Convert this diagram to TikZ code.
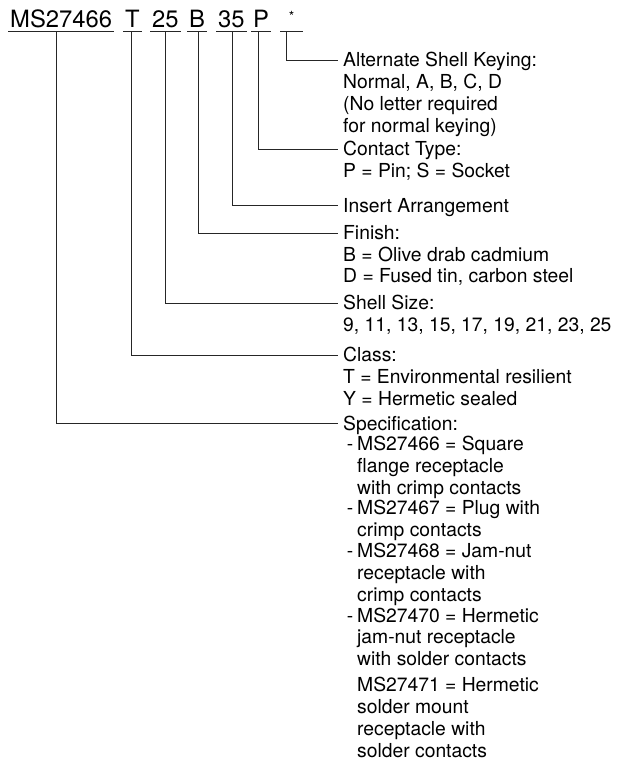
\documentclass[tikz,border=0pt]{standalone}
\usepackage{fontspec}
\setmainfont{TeX Gyre Heros}
\usetikzlibrary{positioning,calc}
\tikzset{
  code/.style={font=\fontsize{23.8}{26}\selectfont, inner xsep=2pt, inner ysep=0pt, text depth=0pt, anchor=base west},
  uline/.style={line width=0.9pt, draw=black!85},
  lead/.style={line width=0.9pt, draw=black!85},
  lbl/.style={font=\fontsize{19.3}{21.8}\selectfont, align=left, inner sep=0pt, anchor=north west,
    execute at begin node={\rule{0pt}{15pt}}},
}
\begin{document}
\begin{tikzpicture}[x=1pt,y=-1pt]
  \useasboundingbox (0,0) rectangle (618,761);
  % part number
  \foreach \n/\x/\t in {ms/8/MS27466, cl/123/T, sz/150/25, fn/187/B, ia/216/35, ct/251/P}{
    \node[code] (\n) at (\x,27) {\t};
  }
  \node[code,minimum width=23pt] (ak) at (280,27) {\raisebox{6pt}{\fontsize{14}{14}\selectfont *}};
  \foreach \n in {ms,cl,sz,fn,ia,ct,ak}{
    \draw[uline] ([yshift=-4pt]\n.south west) -- ([yshift=-4pt]\n.south east);
  }
  % tick points
  \foreach \k/\y in {alt/60, con/149, ins/205, fin/233, shl/303, cls/355, spc/423}{
    \coordinate (k-\k) at (338,\y);
  }
  % labels
  \node[lbl] (alt) at ([xshift=5pt,yshift=8pt]k-alt) {Alternate Shell Keying:\\Normal, A, B, C, D\\(No letter required\\for normal keying)};
  \node[lbl] (con) at ([xshift=5pt,yshift=8pt]k-con) {Contact Type:\\P = Pin; S = Socket};
  \node[lbl] (ins) at ([xshift=5pt,yshift=8pt]k-ins) {Insert Arrangement};
  \node[lbl] (fin) at ([xshift=5pt,yshift=8pt]k-fin) {Finish:\\B = Olive drab cadmium\\D = Fused tin, carbon steel};
  \node[lbl] (shl) at ([xshift=5pt,yshift=8pt]k-shl) {Shell Size:\\9, 11, 13, 15, 17, 19, 21, 23, 25};
  \node[lbl] (cls) at ([xshift=5pt,yshift=8pt]k-cls) {Class:\\T = Environmental resilient\\Y = Hermetic sealed};
  \node[lbl] (spc) at ([xshift=5pt,yshift=8pt]k-spc) {Specification:};
  % specification entries
  \node[lbl] (e1) at (357,436) {\llap{-\hspace{4pt}}MS27466 = Square\\flange receptacle\\with crimp contacts};
  \node[lbl] (e2) at (357,500.3) {\llap{-\hspace{4pt}}MS27467 = Plug with\\crimp contacts};
  \node[lbl] (e3) at (357,543.1) {\llap{-\hspace{4pt}}MS27468 = Jam-nut\\receptacle with\\crimp contacts};
  \node[lbl] (e4) at (357,607.4) {\llap{-\hspace{4pt}}MS27470 = Hermetic\\jam-nut receptacle\\with solder contacts};
  \node[lbl] (e5) at (357,677) {MS27471 = Hermetic\\solder mount\\receptacle with\\solder contacts};
  % leaders
  \foreach \n/\s/\k in {ms/-5/spc, cl/-1/cls, sz/0/shl, fn/1/fin, ia/1/ins, ct/-3/con, ak/-5/alt}{
    \draw[lead] ([xshift=\s pt,yshift=-4pt]\n.south) |- (k-\k);
  }
\end{tikzpicture}
\end{document}
